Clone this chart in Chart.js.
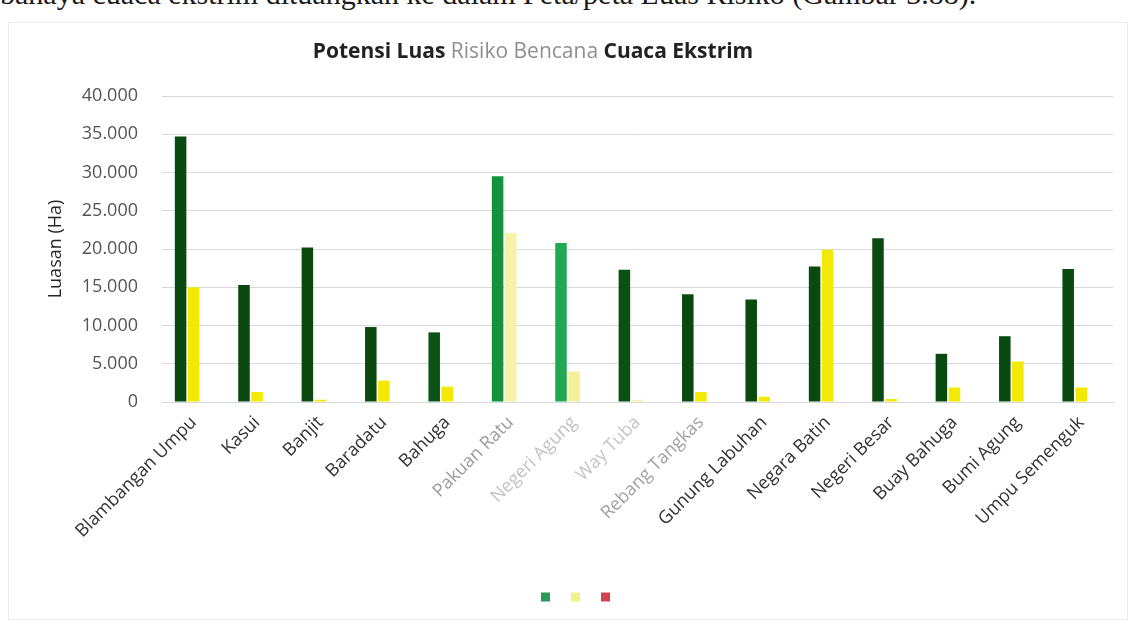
<!DOCTYPE html>
<html>
<head>
<meta charset="utf-8">
<title>Potensi Luas Risiko Bencana Cuaca Ekstrim</title>
<script src="https://cdn.jsdelivr.net/npm/chart.js@4"></script>
<style>
  body { margin: 0; background: #fff; }
  #page { position: relative; width: 1136px; height: 626px; overflow: hidden; }
  .doc-line { position: absolute; left: 0; top: -23px; font: 30px "Liberation Serif", serif; color: #1a1a1a; white-space: nowrap; }
  .chart-frame { position: absolute; left: 8px; top: 22px; width: 1120px; height: 598px; border: 1px solid #ededed; box-sizing: border-box; }
  #chartBox { position: absolute; left: 0; top: 0; width: 1136px; height: 626px; }
</style>
</head>
<body>
<div id="page">
  <div class="doc-line">bahaya cuaca ekstrim dituangkan ke dalam Peta/peta Luas Risiko (Gambar 3.88).</div>
  <div class="chart-frame"></div>
  <div id="chartBox"><canvas id="riskChart"></canvas></div>
</div>
<script>
// Kecamatan dan luas risiko (Ha) per kelas

const kecamatan = ['Blambangan Umpu', 'Kasui', 'Banjit', 'Baradatu', 'Bahuga', 'Pakuan Ratu', 'Negeri Agung',
    'Way Tuba', 'Rebang Tangkas', 'Gunung Labuhan', 'Negara Batin', 'Negeri Besar', 'Buay Bahuga', 'Bumi Agung', 'Umpu Semenguk'];

const risikoRendah = [34700, 15300, 20200, 9800, 9100, 29500, 20800, 17300, 14100, 13400, 17700, 21400, 6300, 8600, 17400];
const risikoSedang = [15000, 1300, 300, 2800, 2000, 22100, 4000, 300, 1300, 700, 19900, 400, 1900, 5300, 1900];
const risikoTinggi = [0, 0, 0, 0, 0, 0, 0, 0, 0, 0, 0, 0, 0, 0, 0];

const yTicks = [0, 5000, 10000, 15000, 20000, 25000, 30000, 35000, 40000];

const titleParts = [
    { text: 'Potensi Luas ', weight: 'bold', color: '#222222' },
    { text: 'Risiko Bencana ', weight: 'normal', color: '#8f8f8f' },
    { text: 'Cuaca Ekstrim', weight: 'bold', color: '#222222' }
];

// Warna batang (beberapa kolom tercetak lebih pudar)
const hijau = ['#0a4a10', '#0a4a10', '#0a4a10', '#0a4a10', '#0c5416', '#14933f', '#22a853', '#0b4f12',
    '#0a4a10', '#0a4a10', '#0a4a10', '#0a4a10', '#0a4a10', '#0a4a10', '#0a4a10'];
const kuning = ['#f2ea05', '#f2ea05', '#f2ea05', '#f2ea05', '#f2ea05', '#f8f2a6', '#f6f09a', '#f4f0b0',
    '#f2ea05', '#f2ea05', '#f2ea05', '#f2ea05', '#f2ea05', '#f2ea05', '#f2ea05'];
const legendColors = ['#2a9a58', '#f2f28a', '#d2424f'];
const labelTones = ['#333333', '#333333', '#333333', '#333333', '#333333', '#9c9c9c', '#c2c2c2', '#c6c6c6',
    '#a2a2a2', '#333333', '#333333', '#333333', '#333333', '#333333', '#333333'];

const FONT = '"Open Sans", "Noto Sans", sans-serif';

function ribuan(v) {
    return String(v).replace(/\B(?=(\d{3})+(?!\d))/g, '.');
}

// Judul dengan bagian berwarna berbeda
const titlePlugin = {
    id: 'segmentTitle',
    afterDraw(chart) {
        const ctx = chart.ctx;
        ctx.save();
        ctx.textBaseline = 'middle';
        let total = 0;
        titleParts.forEach(p => {
            ctx.font = p.weight + ' 21px ' + FONT;
            total += ctx.measureText(p.text).width;
        });
        let x = 533 - total / 2;
        titleParts.forEach(p => {
            ctx.font = p.weight + ' 21px ' + FONT;
            ctx.fillStyle = p.color;
            ctx.fillText(p.text, x, 52);
            x += ctx.measureText(p.text).width;
        });
        ctx.restore();
    }
};

const riskCanvas = document.getElementById('riskChart');

let riskChart = new Chart(riskCanvas, {
    type: 'bar',
    data: {
        labels: kecamatan,
        datasets: [{
            label: 'Rendah',
            data: risikoRendah,
            backgroundColor: hijau
        }, {
            label: 'Sedang',
            data: risikoSedang,
            backgroundColor: kuning
        }, {
            label: 'Tinggi',
            data: risikoTinggi,
            backgroundColor: '#d2424f'
        }]
    },
    options: {
        responsive: true,
        maintainAspectRatio: false,
        animation: false,
        datasets: {
            bar: { categoryPercentage: 0.62, barPercentage: 0.88 }
        },
        layout: { padding: { top: 96, right: 23, bottom: 13, left: 44 } },
        plugins: {
            tooltip: { enabled: false },
            legend: {
                position: 'bottom',
                labels: {
                    boxWidth: 9,
                    boxHeight: 9,
                    padding: 15,
                    font: { size: 12 },
                    generateLabels: chart => chart.data.datasets.map((ds, i) => ({
                        text: '',
                        fillStyle: legendColors[i],
                        strokeStyle: legendColors[i],
                        lineWidth: 0,
                        datasetIndex: i,
                        hidden: false
                    }))
                }
            }
        },
        scales: {
            x: {
                grid: { display: false },
                border: { color: '#d9d9d9' },
                ticks: {
                    autoSkip: false,
                    minRotation: 45,
                    maxRotation: 45,
                    padding: 2,
                    font: { family: FONT, size: 18 },
                    color: ctx => labelTones[ctx.index]
                },
                afterFit(scale) { scale.height = 174; }
            },
            y: {
                min: 0,
                max: 40000,
                afterBuildTicks(scale) { scale.ticks = yTicks.map(v => ({ value: v })); },
                ticks: {
                    padding: 24,
                    font: { family: FONT, size: 18 },
                    color: '#555555',
                    callback: v => ribuan(v)
                },
                grid: { color: '#d9d9d9', drawTicks: false },
                border: { display: false },
                title: {
                    display: true,
                    text: 'Luasan (Ha)',
                    color: '#262626',
                    font: { family: FONT, size: 18 },
                    padding: { top: 1, bottom: 0 }
                },
                afterFit(scale) { scale.width = 118; }
            }
        }
    },
    plugins: [titlePlugin]
});
</script>
</body>
</html>
